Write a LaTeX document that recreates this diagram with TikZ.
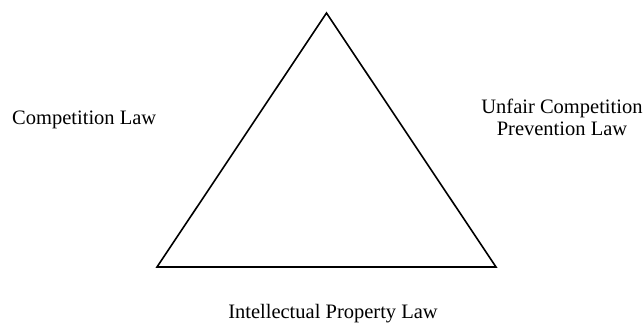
\documentclass[tikz,border=0pt]{standalone}
\usepackage{fontspec}
\setmainfont{Liberation Serif}
\begin{document}
\begin{tikzpicture}[x=1pt,y=-1pt,
  lbl/.style={inner sep=0pt, font=\fontsize{20.5}{21.5}\selectfont, align=center},
  edge/.style={line width=1.6pt, line join=miter}]
\useasboundingbox (0,0) rectangle (643,322);
\coordinate (top) at (326.5,13);
\coordinate (bl) at (157,267);
\coordinate (br) at (496,267);
\draw[edge] (top) -- (bl) -- (br) -- cycle;
\node[lbl, anchor=base west] (comp) at (12,124) {Competition Law};
\node[lbl, anchor=base] (unfair) at (562,135) {Unfair Competition\\Prevention Law};
\node[lbl, anchor=base] (ip) at (333,318) {Intellectual Property Law};
\end{tikzpicture}
\end{document}
